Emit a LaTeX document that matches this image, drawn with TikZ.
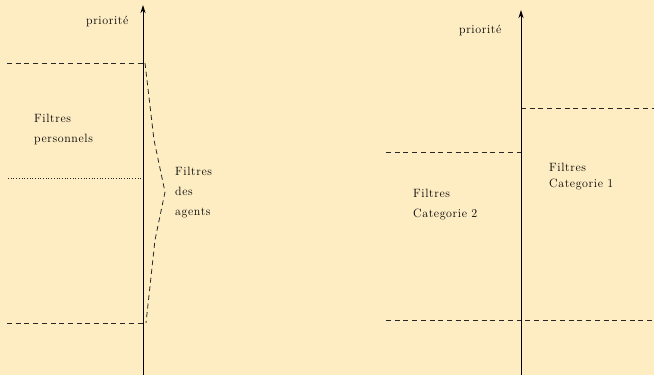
\documentclass[tikz,border=0pt]{standalone}
\usepackage{fontspec}
\setmainfont{lmroman12-regular.otf}[LetterSpace=5]
\usetikzlibrary{arrows.meta}
\definecolor{bg}{RGB}{254,237,195}
\definecolor{ln}{RGB}{40,40,40}
\tikzset{
  axis/.style={line width=1pt, draw=black, -{Stealth[length=8pt,width=5pt,inset=2.5pt]}},
  dashln/.style={line width=0.8pt, draw=ln, dash pattern=on 5pt off 3.7pt},
  dotln/.style={line width=0.7pt, draw=ln, dash pattern=on 0.8pt off 1.9pt},
  lbl/.style={anchor=base west, inner sep=0pt, font=\fontsize{12}{14}\selectfont}
}
\begin{document}
\begin{tikzpicture}[x=1pt,y=-1pt]
\fill[bg] (0,0) rectangle (654,375);
\useasboundingbox (0,0) rectangle (654,375);
% left diagram
\coordinate (lb) at (143,375);
\coordinate (lt) at (143,5);
\coordinate (lA) at (7,63);
\coordinate (lAx) at (143,63);
\coordinate (lB) at (7,323);
\coordinate (lBx) at (143,323);
\coordinate (lC) at (8,178);
\coordinate (lCx) at (141,178);
\draw[dashln] (lA) -- (lAx);
\draw[dashln] (lB) -- (lBx);
\draw[dotln] (lC) -- (lCx);
\draw[dashln] (145,63) -- (154,140) -- (165,192) -- (155,240) -- (146,323);
\draw[axis] (lb) -- (lt);
\node[lbl] (pl) at (86,24) {priorité};
\node[lbl] (fp1) at (34,122) {Filtres};
\node[lbl] (fp2) at (34,142) {personnels};
\node[lbl] (fa1) at (175,175) {Filtres};
\node[lbl] (fa2) at (175,195) {des};
\node[lbl] (fa3) at (175,215) {agents};
% right diagram
\coordinate (rb) at (521,375);
\coordinate (rt) at (521,10);
\coordinate (rA) at (521,108);
\coordinate (rAx) at (654,108);
\coordinate (rB) at (386,152);
\coordinate (rBx) at (521,152);
\coordinate (rC) at (386,320);
\coordinate (rCx) at (654,320);
\draw[dashln] (rA) -- (rAx);
\draw[dashln] (rB) -- (rBx);
\draw[dashln] (rC) -- (rCx);
\draw[axis] (rb) -- (rt);
\node[lbl] (pr) at (459,33) {priorité};
\node[lbl] (c21) at (413,197) {Filtres};
\node[lbl] (c22) at (413,217) {Categorie 2};
\node[lbl] (c11) at (549,171) {Filtres};
\node[lbl] (c12) at (549,187) {Categorie 1};
\end{tikzpicture}
\end{document}
